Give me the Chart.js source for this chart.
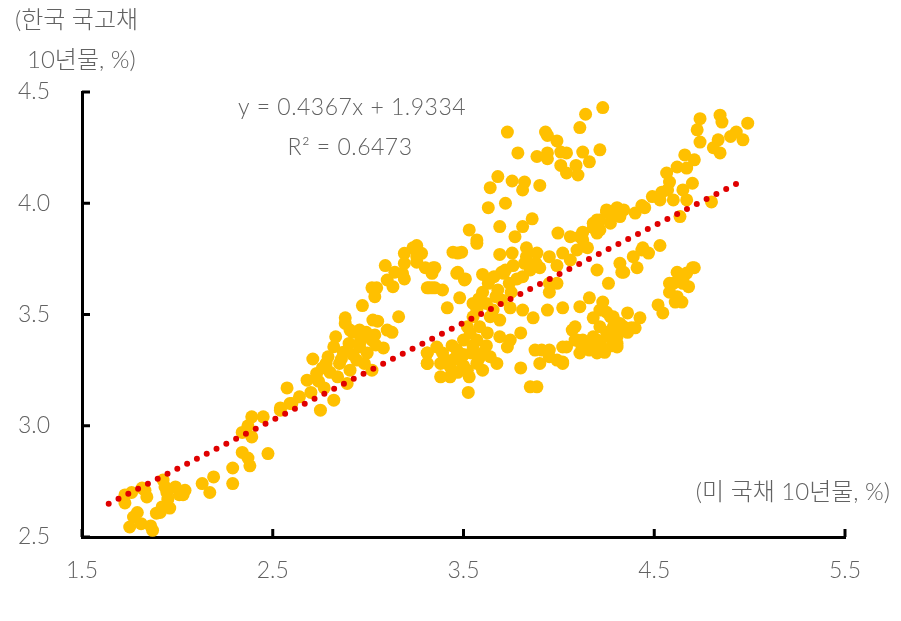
<!DOCTYPE html>
<html>
<head>
<meta charset="utf-8">
<script src="https://cdn.jsdelivr.net/npm/chart.js@4.4.1/dist/chart.umd.min.js"></script>
<style>
  html, body { margin: 0; padding: 0; background: #ffffff; }
  canvas { display: block; }
</style>
</head>
<body>
<canvas id="chart" width="901" height="621"></canvas>
<script>
// 미 국채 10년물 (x) vs 한국 국고채 10년물 (y), %
var usYield = [
  1.725, 1.725, 1.77, 1.79, 1.75, 1.81, 1.86, 1.87, 1.83, 1.84, 1.815, 1.76, 1.925, 1.935, 1.945, 1.95, 1.92, 1.89, 1.91, 1.96,
  1.99, 2.01, 2.04, 2.03, 2.13, 2.17, 2.19, 2.29, 2.29, 2.34, 2.37, 2.38, 2.475, 2.34, 2.39, 2.39, 2.37, 2.45, 2.54, 2.59, 2.575,
  2.54, 2.60, 2.64, 2.68, 2.71, 2.75, 2.73, 2.76, 2.79, 2.82, 2.77, 2.82, 2.84, 2.85, 2.87, 2.89, 2.905, 2.94, 2.955, 2.98,
  2.995, 3.02, 3.02, 3.04, 3.08, 2.92, 2.905, 2.955, 2.99, 3.035, 2.88, 2.88, 3.025, 3.05, 3.10, 3.125, 3.16, 2.97, 3.02, 3.035,
  3.045, 3.13, 3.10, 3.09, 3.14, 3.18, 3.19, 3.19, 3.235, 3.26, 3.28, 3.255, 3.19, 3.31, 3.34, 3.35, 3.31, 3.31, 3.30, 3.335, 3.335,
  2.80, 2.86, 2.92, 2.78, 2.90, 2.96, 2.74, 2.70, 2.83,
  3.73, 3.785, 3.64, 3.68, 3.755, 3.82, 3.81, 3.90, 3.63, 3.72, 3.86, 3.81, 3.69, 3.77, 3.53, 3.57, 3.445, 3.49, 3.69, 3.755,
  3.60, 3.47, 3.51, 3.35, 3.255, 3.93, 3.94, 3.99, 3.885, 3.94, 3.94, 4.01, 4.04, 4.01, 4.04, 4.09, 4.10, 4.125, 4.16, 4.11,
  4.14, 4.23, 4.215,
  3.995, 4.06, 4.11, 4.18, 4.20, 4.25, 4.305, 4.34, 4.27, 4.215, 4.15, 4.095, 4.02, 3.95, 3.885, 3.83, 3.83, 3.82, 3.90, 3.99,
  4.06, 4.20, 4.32, 4.33, 4.26, 3.71, 3.74, 3.81, 3.95,
  3.255, 3.32, 3.39, 3.415, 3.48, 3.465, 3.505, 3.47, 3.57, 3.70, 3.68, 3.70, 3.655, 3.57, 3.55, 3.52, 3.585, 3.64, 3.69, 3.745,
  3.81, 3.865, 3.95, 3.99, 3.94, 4.02, 4.11, 4.16, 3.80, 3.745, 3.69, 3.73,
  3.31, 3.31, 3.36, 3.39, 3.38, 3.38, 3.43, 3.43, 3.465, 3.48, 3.50, 3.52, 3.525, 3.54, 3.57, 3.57, 3.60, 3.60, 3.64, 3.675,
  3.535, 3.625, 3.80, 3.85, 3.885, 3.875, 3.91, 3.90, 3.95, 3.99, 4.02, 4.04, 4.07, 4.085, 4.125, 4.11, 4.16, 4.20, 4.215, 4.25,
  4.285, 4.305, 4.20, 4.27, 4.25,
  3.45, 3.50, 3.55, 3.47, 3.53, 3.44, 3.58, 3.62, 3.40, 3.50,
  3.60, 3.63, 3.66, 3.72, 3.76, 3.62, 3.58, 3.67, 3.75, 3.78, 3.85, 3.88, 3.55,
  4.74, 4.725, 4.74, 4.845, 4.855, 4.99, 4.93, 4.90, 4.965, 4.835, 4.81, 4.845, 4.66, 4.71, 4.62, 4.67, 4.565, 4.58, 4.70, 4.54,
  4.57, 4.65, 4.49, 4.53, 4.60, 4.67, 4.80, 4.635, 4.435, 4.45, 4.40, 4.32, 4.25, 4.28, 4.215, 4.18, 4.125, 4.20, 4.125, 4.53,
  4.44, 4.39, 4.47, 4.34, 4.41, 4.70, 4.62, 4.65, 4.58,
  4.435, 4.23, 4.215, 4.18, 4.285, 4.36, 4.425, 4.40, 4.34, 4.305, 4.305, 4.20, 4.15, 4.095, 4.085, 4.02, 4.02, 3.95,
  4.67, 4.71, 4.60, 4.65, 4.68, 4.58, 4.62, 4.61, 4.645, 4.52, 4.545,
  4.22, 4.26, 4.30, 4.24, 4.28, 4.18, 4.12, 4.36, 4.32, 4.38
];
var krYield = [
  2.689, 2.653, 2.59, 2.61, 2.545, 2.56, 2.55, 2.53, 2.71, 2.68, 2.72, 2.70, 2.756, 2.725, 2.70, 2.67, 2.635, 2.607, 2.61, 2.63,
  2.725, 2.69, 2.71, 2.69, 2.74, 2.70, 2.77, 2.74, 2.81, 2.88, 2.855, 2.82, 2.875, 2.97, 2.95, 3.04, 3.00, 3.04, 3.08, 3.10, 3.17,
  3.07, 3.10, 3.13, 3.205, 3.30, 3.07, 3.235, 3.26, 3.31, 3.355, 3.17, 3.115, 3.22, 3.28, 3.33, 3.19, 3.25, 3.295, 3.354, 3.28,
  3.327, 3.25, 3.385, 3.363, 3.35, 3.42, 3.43, 3.43, 3.42, 3.408, 3.485, 3.46, 3.475, 3.47, 3.43, 3.42, 3.49, 3.54, 3.62, 3.58,
  3.62, 3.625, 3.655, 3.72, 3.69, 3.685, 3.73, 3.775, 3.80, 3.77, 3.775, 3.735, 3.66, 3.62, 3.71, 3.62, 3.327, 3.28, 3.71, 3.685, 3.62,
  3.24, 3.30, 3.32, 3.28, 3.37, 3.38, 3.20, 3.15, 3.40,
  4.32, 4.226, 4.07, 4.12, 4.10, 4.095, 4.06, 4.08, 3.98, 4.00, 3.93, 3.895, 3.895, 3.85, 3.88, 3.835, 3.78, 3.78, 3.77, 3.776,
  3.68, 3.69, 3.66, 3.71, 3.81, 4.32, 4.305, 4.28, 4.21, 4.226, 4.20, 4.23, 4.226, 4.17, 4.136, 4.17, 4.127, 4.23, 4.186, 4.34,
  4.40, 4.43, 4.24,
  3.866, 3.85, 3.85, 3.89, 3.925, 3.96, 3.98, 3.97, 3.91, 3.88, 3.80, 3.79, 3.776, 3.76, 3.776, 3.76, 3.80, 3.73, 3.71, 3.72,
  3.745, 3.70, 3.73, 3.69, 3.64, 3.685, 3.64, 3.67, 3.64,
  3.76, 3.62, 3.61, 3.53, 3.575, 3.685, 3.655, 3.776, 3.82, 3.69, 3.61, 3.565, 3.52, 3.52, 3.49, 3.445, 3.445, 3.49, 3.475, 3.53,
  3.52, 3.485, 3.60, 3.64, 3.52, 3.53, 3.535, 3.575, 3.417, 3.385, 3.40, 3.354,
  3.327, 3.28, 3.354, 3.327, 3.28, 3.22, 3.265, 3.22, 3.34, 3.295, 3.385, 3.25, 3.15, 3.327, 3.28, 3.385, 3.327, 3.25, 3.31, 3.28,
  3.417, 3.417, 3.26, 3.175, 3.175, 3.34, 3.34, 3.28, 3.31, 3.295, 3.28, 3.354, 3.43, 3.385, 3.385, 3.327, 3.34, 3.385, 3.445, 3.42,
  3.445, 3.37, 3.327, 3.49, 3.51,
  3.30, 3.32, 3.36, 3.24, 3.22, 3.36, 3.30, 3.36, 3.30, 3.27,
  3.60, 3.64, 3.67, 3.70, 3.72, 3.55, 3.57, 3.58, 3.60, 3.66, 3.70, 3.73, 3.55,
  4.38, 4.33, 4.275, 4.396, 4.365, 4.36, 4.32, 4.30, 4.285, 4.285, 4.25, 4.226, 4.217, 4.195, 4.163, 4.158, 4.136, 4.095, 4.09, 4.05,
  4.06, 4.06, 4.03, 4.015, 4.015, 4.015, 4.006, 3.94, 3.99, 3.98, 3.956, 3.94, 3.97, 3.94, 3.925, 3.91, 3.87, 3.866, 3.835, 3.81,
  3.80, 3.76, 3.776, 3.69, 3.71, 3.71, 3.69, 3.655, 3.64,
  3.79, 3.556, 3.52, 3.485, 3.49, 3.507, 3.485, 3.44, 3.445, 3.40, 3.354, 3.372, 3.354, 3.385, 3.445, 3.354, 3.286, 3.34,
  3.686, 3.71, 3.64, 3.64, 3.625, 3.60, 3.58, 3.556, 3.556, 3.543, 3.507,
  3.36, 3.40, 3.42, 3.33, 3.36, 3.40, 3.36, 3.42, 3.46, 3.44
];

// 추세선 양 끝
var trendX = [1.64, 4.96];
var trendY = [2.65, 4.10];

var xTicks = [1.5, 2.5, 3.5, 4.5, 5.5];
var yTicks = [2.5, 3.0, 3.5, 4.0, 4.5];

var TXT   = "#626262";
var FONT  = "Lato, 'Noto Sans CJK KR', sans-serif";

var points = usYield.map(function(x, i) { return { x: x, y: krYield[i] }; });
var trend  = trendX.map(function(x, i) { return { x: x, y: trendY[i] }; });

// 안쪽 눈금 + 텍스트 주석
var decoPlugin = {
  id: "deco",
  afterDraw: function(chart) {
    var ctx = chart.ctx, xs = chart.scales.x, ys = chart.scales.y;
    var area = chart.chartArea;
    ctx.save();
    ctx.strokeStyle = "#000";
    ctx.lineWidth = 3;
    xTicks.forEach(function(v) {
      var px = xs.getPixelForValue(v);
      ctx.beginPath(); ctx.moveTo(px, area.bottom); ctx.lineTo(px, area.bottom - 8); ctx.stroke();
    });
    yTicks.forEach(function(v) {
      var py = ys.getPixelForValue(v);
      ctx.beginPath(); ctx.moveTo(area.left, py); ctx.lineTo(area.left + 8, py); ctx.stroke();
    });

    ctx.fillStyle = TXT;
    ctx.textBaseline = "middle";
    ctx.font = "300 24px " + FONT;
    ctx.textAlign = "left";
    ctx.fillText("(한국 국고채", 15, 20);
    ctx.fillText("10년물, %)", 27, 60);
    ctx.textAlign = "right";
    ctx.fillText("(미 국채 10년물, %)", 890, 492);
    ctx.textAlign = "center";
    ctx.font = "300 23px " + FONT;
    ctx.letterSpacing = "0.5px";
    ctx.fillText("y = 0.4367x + 1.9334", 352, 108);
    ctx.fillText("R² = 0.6473", 350, 148);
    ctx.restore();
  }
};

new Chart(document.getElementById("chart"), {
  type: "scatter",
  data: {
    datasets: [
      {
        type: "line", label: "trend", data: trend,
        borderColor: "#e00000", borderWidth: 6,
        borderDash: [0, 11], borderCapStyle: "round",
        pointRadius: 0, fill: false, order: 0
      },
      {
        label: "yield", data: points,
        backgroundColor: "#ffc000", borderWidth: 0,
        pointRadius: 6.5, order: 1
      }
    ]
  },
  options: {
    responsive: false, animation: false,
    layout: { padding: { top: 92, right: 56, left: 0, bottom: 0 } },
    plugins: { legend: { display: false }, tooltip: { enabled: false } },
    scales: {
      x: {
        type: "linear", min: 1.5, max: 5.5,
        afterBuildTicks: function(s) { s.ticks = xTicks.map(function(v) { return { value: v }; }); },
        ticks: { padding: 20, color: TXT, font: { family: FONT, size: 23, weight: 300 },
                 callback: function(v) { return v.toFixed(1); } },
        grid: { display: false, drawTicks: false },
        border: { display: true, color: "#000", width: 3 },
        afterFit: function(s) { s.height = 84; }
      },
      y: {
        type: "linear", min: 2.5, max: 4.5,
        afterBuildTicks: function(s) { s.ticks = yTicks.map(function(v) { return { value: v }; }); },
        ticks: { padding: 32, color: TXT, font: { family: FONT, size: 23, weight: 300 },
                 callback: function(v) { return v.toFixed(1); } },
        grid: { display: false, drawTicks: false },
        border: { display: true, color: "#000", width: 3 },
        afterFit: function(s) { s.width = 82; }
      }
    }
  },
  plugins: [decoPlugin]
});
</script>
</body>
</html>
